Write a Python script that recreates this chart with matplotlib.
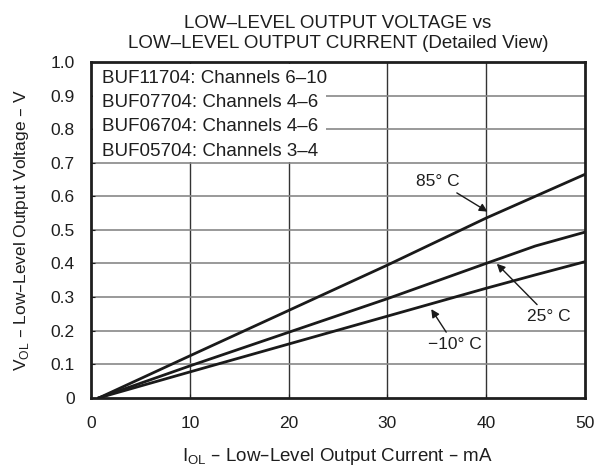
import matplotlib.pyplot as plt
from matplotlib.patches import Rectangle

plt.rcParams["font.family"] = ["Liberation Sans", "DejaVu Sans"]

# output current (mA) and low-level output voltage (V) per temperature
i_ma = [0.8, 10, 20, 30, 40, 45, 50]
v_85c = [0, 0.125, 0.26, 0.395, 0.535, 0.60, 0.665]
v_25c = [0, 0.095, 0.195, 0.295, 0.40, 0.452, 0.493]
v_m10c = [0, 0.077, 0.16, 0.243, 0.326, 0.366, 0.405]

box_lines = ["BUF11704: Channels 6\u201310",
             "BUF07704: Channels 4\u20136",
             "BUF06704: Channels 4\u20136",
             "BUF05704: Channels 3\u20134"]

x_ticks = [0, 10, 20, 30, 40, 50]
y_ticks = [0, 0.1, 0.2, 0.3, 0.4, 0.5, 0.6, 0.7, 0.8, 0.9, 1.0]
y_tick_labels = ["0", "0.1", "0.2", "0.3", "0.4", "0.5", "0.6", "0.7", "0.8", "0.9", "1.0"]

fig = plt.figure(figsize=(6.04, 4.73), dpi=100)
ax = fig.add_axes([0.151, 0.159, 0.817, 0.71])

for x in x_ticks[1:-1]:
    ax.axvline(x, color="#333333", lw=1.0, zorder=1)
for y in y_ticks[1:-1]:
    ax.axhline(y, color="#888888", lw=1.2, zorder=1)

for v in (v_85c, v_25c, v_m10c):
    ax.plot(i_ma, v, color="#1a1a1a", lw=2.0, zorder=3)

# white box that hides the grid behind the device list
ax.add_patch(Rectangle((0.2, 0.703), 23.6, 0.29, facecolor="white",
                       edgecolor="none", zorder=2))
box_y = [0.952, 0.878, 0.808, 0.732]
for line, y in zip(box_lines, box_y):
    ax.text(1.1, y, line, fontsize=13.5, color="#1e1e1e",
            va="center", ha="left", zorder=4)

arrow = dict(arrowstyle="-|>", color="#1a1a1a", lw=1.0, mutation_scale=12)
ax.annotate("85\u00b0 C", xy=(40.4, 0.55), xytext=(35.1, 0.645),
            fontsize=12.5, ha="center", va="center", arrowprops=arrow,
            color="#1e1e1e", zorder=5)
ax.annotate("25\u00b0 C", xy=(40.9, 0.405), xytext=(46.4, 0.241),
            fontsize=12.5, ha="center", va="center", arrowprops=arrow,
            color="#1e1e1e", zorder=5)
ax.annotate("\u221210\u00b0 C", xy=(34.3, 0.271), xytext=(36.8, 0.158),
            fontsize=12.5, ha="center", va="center", arrowprops=arrow,
            color="#1e1e1e", zorder=5)

ax.set_xlim(0, 50)
ax.set_ylim(0, 1.0)
ax.set_xticks(x_ticks)
ax.set_yticks(y_ticks)
ax.set_yticklabels(y_tick_labels)
ax.tick_params(direction="in", length=3, labelsize=12.5, colors="#1e1e1e")
ax.tick_params(axis="x", pad=13)
ax.tick_params(axis="y", pad=12)
for s in ax.spines.values():
    s.set_linewidth(2.0)
    s.set_color("#1e1e1e")

ax.set_xlabel("I$_{\\mathregular{OL}}$ \u2013 Low\u2013Level Output Current \u2013 mA",
              fontsize=13.5, color="#1e1e1e", labelpad=11)
ax.set_ylabel("V$_{\\mathregular{OL}}$ \u2013 Low\u2013Level Output Voltage \u2013 V",
              fontsize=12.5, color="#1e1e1e", labelpad=14)
ax.set_title("LOW\u2013LEVEL OUTPUT VOLTAGE vs\nLOW\u2013LEVEL OUTPUT CURRENT (Detailed View)",
             fontsize=13.5, color="#1e1e1e", pad=10, linespacing=1.25)

fig.savefig("out.png", dpi=100)
